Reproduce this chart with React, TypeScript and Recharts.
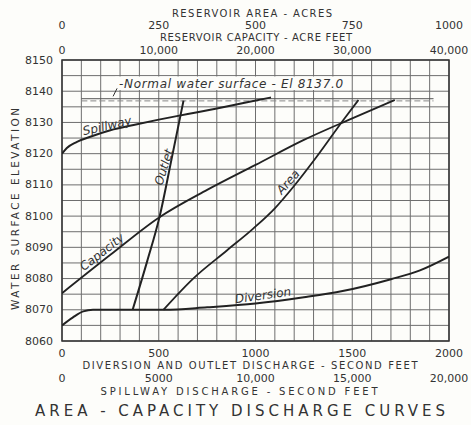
import React from 'react';
import { LineChart, Line, XAxis, YAxis, CartesianGrid, ReferenceArea, ReferenceLine, ReferenceDot } from 'recharts';

// diversion discharge (sec-ft) vs water surface elevation
const diversionFlow = [0, 55, 110, 160, 530, 750, 1000, 1250, 1450, 1700, 1850, 2000];
const diversionElev = [8065, 8067.5, 8069.5, 8070, 8070, 8070.8, 8072, 8074, 8076, 8079.8, 8082.6, 8087];

// outlet discharge (sec-ft)
const outletFlow = [365, 440, 505, 567, 628];
const outletElev = [8070, 8085.5, 8100, 8118.5, 8137];

// spillway discharge (sec-ft)
const spillwayFlow = [0, 250, 750, 1500, 2500, 3700, 5000, 6500, 8000, 9500, 10800];
const spillwayElev = [8120, 8121.8, 8123.7, 8125.5, 8127.5, 8129.2, 8130.9, 8132.7, 8134.5, 8136.4, 8138];

// reservoir capacity (acre-ft)
const capacityAcreFt = [0, 5000, 10000, 15000, 20000, 25000, 30000, 34400];
const capacityElev = [8075.3, 8087.6, 8099.5, 8108.4, 8116.4, 8124.4, 8131.3, 8137.2];

// reservoir area (acres)
const areaAcres = [262, 339, 426, 494, 550, 598, 658, 727, 766];
const areaElev = [8070, 8080, 8089, 8096, 8102.5, 8109.4, 8119, 8130.8, 8137.2];

const normalWaterSurface = 8137;

// tick labels
const flowLabels = [0, 500, 1000, 1500, 2000];
const spillTicks = [0, 5000, 10000, 15000, 20000];
const spillLabels = ['0', '5000', '10,000', '15,000', '20,000'];
const areaTicks = [0, 250, 500, 750, 1000];
const capTicks = [0, 10000, 20000, 30000, 40000];
const capLabels = ['0', '10,000', '20,000', '30,000', '40,000'];
const elevLabels = [8060, 8070, 8080, 8090, 8100, 8110, 8120, 8130, 8140, 8150];

// grid every 100 sec-ft and 5 ft
const gridFlow = Array.from({ length: 21 }, (_, i) => i * 100);
const gridElev = Array.from({ length: 19 }, (_, i) => 8060 + i * 5);

const toPts = (xs: number[], ys: number[]) => xs.map((x, i) => ({ x, y: ys[i] }));

const INK = '#333';
const FONT = '"DejaVu Sans", sans-serif';
const BG = '#fdfdfa';

const xTick = (y: number, values: number[], labels?: string[]) => (props: any) => {
  const v = props.payload.value;
  const idx = values.indexOf(v);
  if (idx < 0) return <g />;
  return (
    <text x={props.x} y={y} textAnchor="middle" dominantBaseline="central" fontFamily={FONT} fontSize={11} fill={INK}>
      {labels ? labels[idx] : String(v)}
    </text>
  );
};

const yTick = (props: any) => {
  const v = props.payload.value;
  if (!elevLabels.includes(v)) return <g />;
  return (
    <text x={53} y={props.y} textAnchor="end" dominantBaseline="central" fontFamily={FONT} fontSize={11} fill={INK}>
      {v}
    </text>
  );
};

const curveLabel = (text: string, angle: number, anchor: 'middle' | 'start' = 'middle', size = 12, length?: number) =>
  (props: any) => {
    const vb = props.viewBox || {};
    const cx = vb.x + (vb.width || 0) / 2;
    const cy = vb.y + (vb.height || 0) / 2;
    return (
      <g>
        {anchor === 'start' && (
          <path d={`M ${cx - 2} ${cy + 4} Q ${cx - 4} ${cy + 8} ${cx - 6} ${cy + 12}`} stroke={INK} fill="none" strokeWidth={1} />
        )}
        <text
          x={cx}
          y={cy}
          transform={`rotate(${angle} ${cx} ${cy})`}
          textAnchor={anchor}
          dominantBaseline="central"
          fontFamily={FONT}
          fontStyle="italic"
          fontSize={size}
          fill={INK}
          textLength={length}
          lengthAdjust="spacing"
        >
          {text}
        </text>
      </g>
    );
  };

const Titles = () => (
  <svg width={471} height={425} style={{ position: 'absolute', left: 0, top: 0, pointerEvents: 'none' }}>
    <g fontFamily={FONT} fill={INK} textAnchor="middle" dominantBaseline="central">
      <text x={252} y={13} fontSize={10} textLength={160} lengthAdjust="spacing">RESERVOIR AREA - ACRES</text>
      <text x={256} y={37} fontSize={10} textLength={192} lengthAdjust="spacing">RESERVOIR CAPACITY - ACRE FEET</text>
      <text x={250} y={365} fontSize={10} textLength={335} lengthAdjust="spacing">DIVERSION AND OUTLET DISCHARGE - SECOND FEET</text>
      <text x={239} y={391} fontSize={10} textLength={277} lengthAdjust="spacing">SPILLWAY DISCHARGE - SECOND FEET</text>
      <text x={240} y={411} fontSize={15} textLength={410} lengthAdjust="spacing">AREA - CAPACITY  DISCHARGE  CURVES</text>
      <text x={15} y={209} fontSize={10.5} textLength={202} lengthAdjust="spacing" transform="rotate(-90 15 209)">
        WATER   SURFACE   ELEVATION
      </text>
    </g>
  </svg>
);

export default function App() {
  return (
    <div style={{ position: 'absolute', left: 0, top: 0, width: 471, height: 425, background: BG }}>
      <LineChart width={471} height={425} margin={{ top: 0, right: 22, bottom: 0, left: 0 }}>
        <XAxis xAxisId="dis" type="number" dataKey="x" domain={[0, 2000]} ticks={gridFlow} interval={0}
          orientation="bottom" height={42} axisLine={false} tickLine={false} allowDataOverflow
          tick={xTick(353, flowLabels)} />
        <XAxis xAxisId="spill" type="number" dataKey="x" domain={[0, 20000]} ticks={spillTicks} interval={0}
          orientation="bottom" height={42} axisLine={false} tickLine={false} allowDataOverflow
          tick={xTick(378, spillTicks, spillLabels)} />
        <XAxis xAxisId="area" type="number" dataKey="x" domain={[0, 1000]} ticks={areaTicks} interval={0}
          orientation="top" height={30} axisLine={false} tickLine={false} allowDataOverflow
          tick={xTick(25, areaTicks)} />
        <XAxis xAxisId="cap" type="number" dataKey="x" domain={[0, 40000]} ticks={capTicks} interval={0}
          orientation="top" height={30} axisLine={false} tickLine={false} allowDataOverflow
          tick={xTick(50, capTicks, capLabels)} />
        <YAxis yAxisId="elev" type="number" domain={[8060, 8150]} ticks={gridElev} interval={0}
          width={62} axisLine={false} tickLine={false} allowDataOverflow tick={yTick} />

        <CartesianGrid xAxisId="dis" yAxisId="elev" stroke="#6e6e6e" strokeWidth={1} />
        <ReferenceArea xAxisId="dis" yAxisId="elev" x1={0} x2={2000} y1={8060} y2={8150}
          fill="none" stroke={INK} strokeWidth={1.5} />

        {/* normal water surface */}
        <ReferenceLine xAxisId="dis" yAxisId="elev"
          segment={[{ x: 100, y: normalWaterSurface + 0.6 }, { x: 1920, y: normalWaterSurface + 0.6 }]}
          stroke="#555" strokeWidth={1} />
        <ReferenceLine xAxisId="dis" yAxisId="elev"
          segment={[{ x: 100, y: normalWaterSurface - 0.1 }, { x: 1920, y: normalWaterSurface - 0.1 }]}
          stroke="#888" strokeWidth={1} strokeDasharray="6 3" />
        <ReferenceArea xAxisId="dis" yAxisId="elev" x1={275} x2={1490} y1={8140.4} y2={8144.7}
          fill={BG} fillOpacity={1} stroke="none" />
        <ReferenceDot xAxisId="dis" yAxisId="elev" x={295} y={8142.2} r={0} fill="none" stroke="none"
          label={curveLabel('-Normal water surface - El 8137.0', 0, 'start', 12, 224)} />

        <Line xAxisId="spill" yAxisId="elev" data={toPts(spillwayFlow, spillwayElev)} dataKey="y"
          type="monotone" stroke="#222" strokeWidth={2} dot={false} isAnimationActive={false} />
        <Line xAxisId="dis" yAxisId="elev" data={toPts(outletFlow, outletElev)} dataKey="y"
          type="monotone" stroke="#222" strokeWidth={2} dot={false} isAnimationActive={false} />
        <Line xAxisId="cap" yAxisId="elev" data={toPts(capacityAcreFt, capacityElev)} dataKey="y"
          type="monotone" stroke="#222" strokeWidth={1.8} dot={false} isAnimationActive={false} />
        <Line xAxisId="area" yAxisId="elev" data={toPts(areaAcres, areaElev)} dataKey="y"
          type="monotone" stroke="#222" strokeWidth={1.8} dot={false} isAnimationActive={false} />
        <Line xAxisId="dis" yAxisId="elev" data={toPts(diversionFlow, diversionElev)} dataKey="y"
          type="monotone" stroke="#222" strokeWidth={2} dot={false} isAnimationActive={false} />

        <ReferenceDot xAxisId="dis" yAxisId="elev" x={233} y={8128.9} r={0} fill="none" stroke="none"
          label={curveLabel('Spillway', -13)} />
        <ReferenceDot xAxisId="dis" yAxisId="elev" x={527} y={8115.7} r={0} fill="none" stroke="none"
          label={curveLabel('Outlet', -73)} />
        <ReferenceDot xAxisId="dis" yAxisId="elev" x={207} y={8088.5} r={0} fill="none" stroke="none"
          label={curveLabel('Capacity', -38)} />
        <ReferenceDot xAxisId="dis" yAxisId="elev" x={1168} y={8110.9} r={0} fill="none" stroke="none"
          label={curveLabel('Area', -48)} />
        <ReferenceDot xAxisId="dis" yAxisId="elev" x={1039} y={8074.6} r={0} fill="none" stroke="none"
          label={curveLabel('Diversion', -8)} />
      </LineChart>
      <Titles />
    </div>
  );
}
